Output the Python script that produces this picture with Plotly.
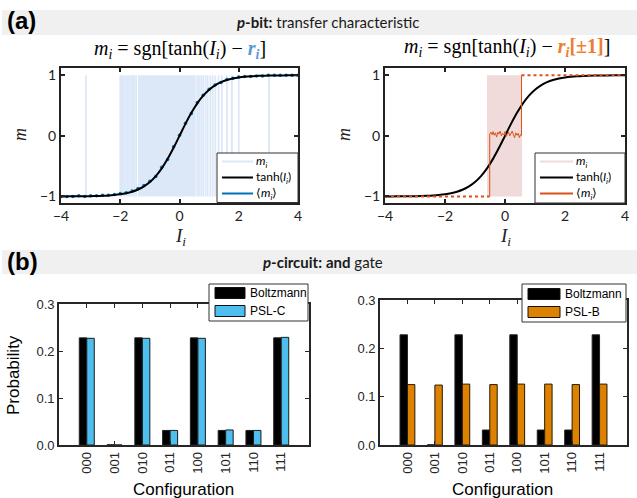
import plotly.graph_objects as go

W, H = 637, 498

# ---------------- data ----------------
I_grid = [-4.0, -3.8, -3.6, -3.4, -3.2, -3.0, -2.8, -2.6, -2.4, -2.2, -2.0,
          -1.8, -1.6, -1.4, -1.2, -1.0, -0.8, -0.6, -0.4, -0.2, 0.0,
          0.2, 0.4, 0.6, 0.8, 1.0, 1.2, 1.4, 1.6, 1.8, 2.0,
          2.2, 2.4, 2.6, 2.8, 3.0, 3.2, 3.4, 3.6, 3.8, 4.0]
tanh_vals = [-0.9993, -0.9990, -0.9985, -0.9978, -0.9967, -0.9951, -0.9926, -0.9890, -0.9837, -0.9757, -0.9640,
             -0.9468, -0.9217, -0.8854, -0.8337, -0.7616, -0.6640, -0.5370, -0.3799, -0.1974, 0.0,
             0.1974, 0.3799, 0.5370, 0.6640, 0.7616, 0.8337, 0.8854, 0.9217, 0.9468, 0.9640,
             0.9757, 0.9837, 0.9890, 0.9926, 0.9951, 0.9967, 0.9978, 0.9985, 0.9990, 0.9993]
mean_left = [-1.00, -1.00, -1.00, -0.99, -1.00, -0.99, -0.99, -0.98, -0.98, -0.97, -0.95,
             -0.94, -0.91, -0.87, -0.82, -0.75, -0.67, -0.52, -0.39, -0.18, 0.01,
             0.21, 0.37, 0.55, 0.67, 0.77, 0.84, 0.88, 0.93, 0.95, 0.97,
             0.98, 0.98, 0.99, 0.99, 1.00, 1.00, 1.00, 1.00, 1.00, 1.00]

# left p-bit: sample flips (vertical strokes) and dense band
left_band = [-1.40, 0.55]
left_lines = [-3.16, -2.00, -1.96, -1.91, -1.85, -1.79, -1.74, -1.68, -1.62, -1.57, -1.52, -1.46,
              0.60, 0.66, 0.73, 0.80, 0.88, 0.95, 1.04, 1.12, 1.21, 1.32, 1.43, 1.60, 1.77, 2.00, 3.02]

# right p-bit (r_i = +-1)
right_band = [-0.60, 0.57]
rmean_I = [-0.51, -0.51, -0.47, -0.43, -0.40, -0.36, -0.32, -0.28, -0.24, -0.20, -0.16,
           -0.12, -0.08, -0.04, 0.00, 0.04, 0.08, 0.12, 0.16, 0.20, 0.24, 0.28,
           0.32, 0.36, 0.40, 0.44, 0.48, 0.52, 0.55, 0.55]
rmean_m = [-1.00, 0.03, 0.06, 0.02, 0.07, 0.01, 0.05, -0.02, 0.06, 0.03, 0.08,
           0.00, 0.04, 0.02, 0.07, -0.01, 0.03, 0.06, 0.00, 0.05, 0.08, 0.02,
           -0.03, 0.05, 0.01, 0.04, -0.03, 0.02, 0.01, 1.00]
rtail_low_I = [-4.0, -0.51]
rtail_low_m = [-1.0, -1.0]
rtail_high_I = [0.55, 4.1]
rtail_high_m = [1.0, 1.0]

# and gate
configs = ["000", "001", "010", "011", "100", "101", "110", "111"]
boltz = [0.228, 0.0005, 0.228, 0.031, 0.228, 0.031, 0.031, 0.228]
psl_c = [0.227, 0.0, 0.227, 0.031, 0.227, 0.032, 0.031, 0.229]
psl_b = [0.125, 0.124, 0.126, 0.125, 0.126, 0.126, 0.125, 0.126]
cfg_pos = list(range(1, len(configs) + 1))

# legend labels
pbit_labels = ["<i>m<sub>i</sub></i>", "tanh(<i>I<sub>i</sub></i>)", "\u27e8<i>m<sub>i</sub></i>\u27e9"]

# ---------------- styling ----------------
LB = "#DCE8F7"      # light blue samples
PK = "#F1DADA"      # light pink samples
BLUE = "#0072BD"
ORANGE = "#D95319"
C_BLUE = "#4DBEEE"
C_ORANGE = "#DD8200"
SANS = "Liberation Sans"
CAL = "Lato"
SERIF = "Liberation Serif"


def px_x(p):
    return p / W


def px_y(p):
    return 1 - p / H


fig = go.Figure()

# ---- top-left ----
segx, segy = [], []
for v in left_lines:
    segx += [v, v, None]
    segy += [-1, 1, None]
fig.add_trace(go.Scatter(x=[left_band[0], left_band[1], left_band[1], left_band[0], left_band[0]],
                         y=[-1, -1, 1, 1, -1], fill="toself", fillcolor=LB, mode="none",
                         xaxis="x", yaxis="y", hoverinfo="skip"))
fig.add_trace(go.Scatter(x=segx, y=segy, mode="lines", line=dict(color=LB, width=1.8),
                         name="m_i", xaxis="x", yaxis="y"))
fig.add_trace(go.Scatter(x=I_grid, y=mean_left, mode="markers", marker=dict(color=BLUE, size=3.5),
                         name="<m_i>", xaxis="x", yaxis="y"))
fig.add_trace(go.Scatter(x=I_grid, y=tanh_vals, mode="lines", line=dict(color="black", width=2, shape="spline"),
                         name="tanh", xaxis="x", yaxis="y"))

# ---- top-right ----
fig.add_trace(go.Scatter(x=[right_band[0], right_band[1], right_band[1], right_band[0], right_band[0]],
                         y=[-1, -1, 1, 1, -1], fill="toself", fillcolor=PK, mode="none",
                         xaxis="x2", yaxis="y2", hoverinfo="skip"))
fig.add_trace(go.Scatter(x=I_grid, y=tanh_vals, mode="lines", line=dict(color="black", width=2, shape="spline"),
                         name="tanh", xaxis="x2", yaxis="y2"))
fig.add_trace(go.Scatter(x=rtail_low_I, y=rtail_low_m, mode="lines", line=dict(color=ORANGE, width=2, dash="dot"),
                         xaxis="x2", yaxis="y2", cliponaxis=False))
fig.add_trace(go.Scatter(x=rtail_high_I, y=rtail_high_m, mode="lines", line=dict(color=ORANGE, width=2, dash="dot"),
                         xaxis="x2", yaxis="y2", cliponaxis=False))
fig.add_trace(go.Scatter(x=rmean_I, y=rmean_m, mode="lines", line=dict(color=ORANGE, width=1),
                         name="<m_i>", xaxis="x2", yaxis="y2"))

# ---- bottom bars ----
fig.add_trace(go.Bar(x=cfg_pos, y=boltz, marker=dict(color="black", line=dict(color="#222", width=1)),
                     name="Boltzmann", xaxis="x3", yaxis="y3", offsetgroup="a"))
fig.add_trace(go.Bar(x=cfg_pos, y=psl_c, marker=dict(color=C_BLUE, line=dict(color="#1a1a1a", width=1)),
                     name="PSL-C", xaxis="x3", yaxis="y3", offsetgroup="b"))
fig.add_trace(go.Bar(x=cfg_pos, y=boltz, marker=dict(color="black", line=dict(color="#222", width=1)),
                     name="Boltzmann", xaxis="x4", yaxis="y4", offsetgroup="a"))
fig.add_trace(go.Bar(x=cfg_pos, y=psl_b, marker=dict(color=C_ORANGE, line=dict(color="#2a1800", width=1)),
                     name="PSL-B", xaxis="x4", yaxis="y4", offsetgroup="b"))

# ---------------- axes ----------------
dom_tl_x = [px_x(61), px_x(298)]
dom_tr_x = [px_x(385), px_x(625)]
dom_t_y = [px_y(202.5), px_y(68)]
dom_bl_x = [px_x(59), px_x(309)]
dom_br_x = [px_x(380), px_x(627)]
dom_bl_y = [px_y(445), px_y(304)]
dom_br_y = [px_y(445), px_y(300)]

top_x = dict(range=[-4, 4], tickvals=[-4, -2, 0, 2, 4], ticktext=["\u22124", "\u22122", "0", "2", "4"],
             ticks="inside", ticklen=4, tickwidth=1.5, tickcolor="#222", showline=True, linewidth=2,
             linecolor="#222", mirror="ticks", showgrid=False, zeroline=False, automargin=False,
             tickfont=dict(family=CAL, size=14, color="#222"))
top_y = dict(range=[-1.1, 1.12], tickvals=[-1, 0, 1], ticktext=["\u22121", "0", "1"],
             ticks="inside", ticklen=4, tickwidth=1.5, tickcolor="#222", showline=True, linewidth=2,
             linecolor="#222", mirror="ticks", showgrid=False, zeroline=False, automargin=False,
             tickfont=dict(family=CAL, size=14, color="#222"))
bot_x = dict(range=[0, 9], tickvals=cfg_pos, ticktext=configs, tickangle=-90,
             ticks="inside", ticklen=4, tickwidth=1.2, tickcolor="#262626", showline=True, linewidth=1.6,
             linecolor="#262626", mirror="ticks", showgrid=False, zeroline=False, automargin=False,
             tickfont=dict(family=SANS, size=13, color="#262626"))
bot_y = dict(range=[0, 0.3], tickvals=[0, 0.1, 0.2, 0.3], tickformat=".1f",
             ticks="inside", ticklen=4, tickwidth=1.2, tickcolor="#262626", showline=True, linewidth=1.6,
             linecolor="#262626", mirror="ticks", showgrid=False, zeroline=False, automargin=False,
             tickfont=dict(family=SANS, size=13, color="#262626"))

fig.update_layout(
    width=W, height=H, autosize=False, margin=dict(l=0, r=0, t=0, b=0, autoexpand=False),
    paper_bgcolor="white", plot_bgcolor="white", barmode="group", bargap=0.46, bargroupgap=0,
    xaxis=dict(domain=dom_tl_x, anchor="y", **top_x),
    yaxis=dict(domain=dom_t_y, anchor="x", **top_y),
    xaxis2=dict(domain=dom_tr_x, anchor="y2", **top_x),
    yaxis2=dict(domain=dom_t_y, anchor="x2", **top_y),
    xaxis3=dict(domain=dom_bl_x, anchor="y3", **bot_x),
    yaxis3=dict(domain=dom_bl_y, anchor="x3", **bot_y),
    xaxis4=dict(domain=dom_br_x, anchor="y4", **bot_x),
    yaxis4=dict(domain=dom_br_y, anchor="x4", **bot_y),
    showlegend=False,
)

shapes = []
anns = []
# header bands
for (y0, y1) in [(10, 35), (250, 274)]:
    shapes.append(dict(type="rect", xref="paper", yref="paper", x0=px_x(2), x1=1, y0=px_y(y1), y1=px_y(y0),
                       fillcolor="#F0F0F0", line=dict(width=0), layer="below"))
anns.append(dict(text="<b>(a)</b>", x=px_x(5), y=px_y(21), xanchor="left", yanchor="middle",
                 font=dict(family=SANS, size=24, color="black")))
anns.append(dict(text="<b>(b)</b>", x=px_x(5), y=px_y(261), xanchor="left", yanchor="middle",
                 font=dict(family=SANS, size=24, color="black")))
anns.append(dict(text="<b><i>p</i>-bit:</b> transfer characteristic", x=px_x(328), y=px_y(22),
                 xanchor="center", yanchor="middle", font=dict(family=CAL, size=15, color="#1a1a1a")))
anns.append(dict(text="<b><i>p</i>-circuit:</b> <b>and</b> gate", x=px_x(323), y=px_y(262),
                 xanchor="center", yanchor="middle", font=dict(family=CAL, size=15, color="#1a1a1a")))
# panel titles
anns.append(dict(text="<i>m<sub>i</sub></i> = sgn[tanh(<i>I<sub>i</sub></i>) \u2212 "
                      "<span style='color:#5B9BD5'><b><i>r<sub>i</sub></i></b></span>]",
                 x=px_x(180), y=px_y(49), xanchor="center", yanchor="middle",
                 font=dict(family=SERIF, size=20, color="black")))
anns.append(dict(text="<i>m<sub>i</sub></i> = sgn[tanh(<i>I<sub>i</sub></i>) \u2212 "
                      "<span style='color:#ED7D31'><b><i>r<sub>i</sub></i>[\u00b11]</b></span>]",
                 x=px_x(507), y=px_y(48), xanchor="center", yanchor="middle",
                 font=dict(family=SERIF, size=20, color="black")))
# axis titles
for xc in (180, 505):
    anns.append(dict(text="<i>I<sub>i</sub></i>", x=px_x(xc), y=px_y(237), xanchor="center", yanchor="middle",
                     font=dict(family=SERIF, size=19, color="#222")))
for xc in (20, 344):
    anns.append(dict(text="<i>m</i>", x=px_x(xc), y=px_y(135), xanchor="center", yanchor="middle",
                     textangle=-90, font=dict(family=SERIF, size=18, color="#222")))
for xc in (183, 502):
    anns.append(dict(text="Configuration", x=px_x(xc), y=px_y(489), xanchor="center", yanchor="middle",
                     font=dict(family=SANS, size=17, color="black")))
anns.append(dict(text="Probability", x=px_x(13), y=px_y(375), xanchor="center", yanchor="middle",
                 textangle=-90, font=dict(family=SANS, size=17, color="black")))


# manual legends
def box(x0, x1, y0, y1):
    shapes.append(dict(type="rect", xref="paper", yref="paper", x0=px_x(x0), x1=px_x(x1),
                       y0=px_y(y1), y1=px_y(y0), fillcolor="white", line=dict(color="#333", width=1)))


def line_legend(x0, x1, y0, y1, l0, l1, rows, colors, labels):
    box(x0, x1, y0, y1)
    for yc, col, lab in zip(rows, colors, labels):
        shapes.append(dict(type="line", xref="paper", yref="paper", x0=px_x(l0), x1=px_x(l1),
                           y0=px_y(yc), y1=px_y(yc), line=dict(color=col, width=2)))
        anns.append(dict(text=lab, x=px_x(l1 + 1), y=px_y(yc), xanchor="left", yanchor="middle",
                         height=13, valign="middle",
                         font=dict(family=CAL, size=12, color="black")))


def bar_legend(x0, x1, y0, y1, p0, p1, rows, colors, labels):
    box(x0, x1, y0, y1)
    for yc, col, lab in zip(rows, colors, labels):
        shapes.append(dict(type="rect", xref="paper", yref="paper", x0=px_x(p0), x1=px_x(p1),
                           y0=px_y(yc + 5.5), y1=px_y(yc - 5.5), fillcolor=col,
                           line=dict(color="#111", width=1)))
        anns.append(dict(text=lab, x=px_x(p1 + 3), y=px_y(yc), xanchor="left", yanchor="middle",
                         font=dict(family=SANS, size=12, color="black")))


legend_rows = [161.5, 177.5, 193.5]
line_legend(217, 298, 153, 202.5, 222, 253, legend_rows, [LB, "black", BLUE], pbit_labels)
line_legend(535, 625, 153, 203, 540, 573, legend_rows, [PK, "black", ORANGE], pbit_labels)
bar_legend(209, 308, 284, 321, 215, 245, [293, 311], ["black", C_BLUE], ["Boltzmann", "PSL-C"])
bar_legend(522, 626, 284, 322, 528, 560, [294, 312], ["black", C_ORANGE], ["Boltzmann", "PSL-B"])

for a in anns:
    a.update(xref="paper", yref="paper", showarrow=False)
fig.update_layout(shapes=shapes, annotations=anns)

fig.write_html("out.html")
